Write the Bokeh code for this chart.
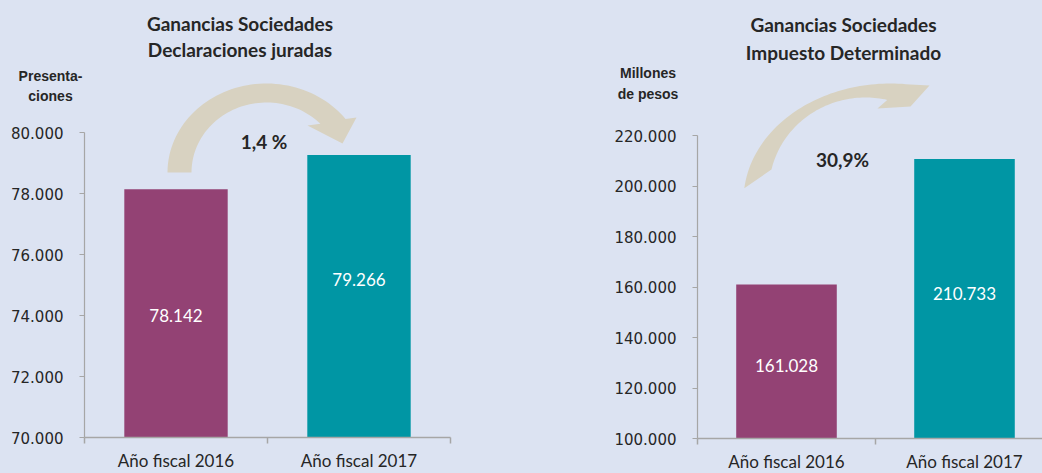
import math
from bokeh.plotting import figure
from bokeh.models import Range1d, FixedTicker
from bokeh.layouts import row
from bokeh.core.properties import value
from bokeh.embed import file_html
from bokeh.resources import INLINE

# ---------------- data ----------------
categories = ["Año fiscal 2016", "Año fiscal 2017"]
decl_values = [78142, 79266]          # Declaraciones juradas (presentaciones)
tax_values = [161028, 210733]         # Impuesto determinado (millones de pesos)
decl_ticks = [70000, 72000, 74000, 76000, 78000, 80000]
tax_ticks = [100000, 120000, 140000, 160000, 180000, 200000, 220000]
decl_change = "1,4 %"
tax_change = "30,9%"
decl_title = ["Ganancias Sociedades", "Declaraciones juradas"]
tax_title = ["Ganancias Sociedades", "Impuesto Determinado"]
decl_unit = ["Presenta-", "ciones"]
tax_unit = ["Millones", "de pesos"]

# ---------------- style ----------------
BG = "#dce3f2"
BAR_COLORS = ["#934274", "#0096a4"]
ARROW = "#d8d2c1"
AXIS = "#a6a6a6"
TXT = "#262626"
H = 473


def fmt(v):
    return f"{v:,}".replace(",", ".")


def ellipse_pts(cx, cy, rx, ry, t0, t1, n=60):
    pts = []
    for i in range(n + 1):
        t = math.radians(t0 + (t1 - t0) * i / n)
        pts.append((cx + rx * math.cos(t), cy - ry * math.sin(t)))
    return pts


def build(values, ticks, title, unit, change, g):
    fig_left, fig_w = g["fig_left"], g["fig_w"]
    fl, cw = g["frame_left"], g["cat_w"]
    yb, ytt = g["y_bottom"], g["y_top_tick"]
    ppu = (yb - ytt) / (ticks[-1] - ticks[0])

    def X(px):
        return (px - fl) / cw

    def Y(py):
        return ticks[0] + (yb - py) / ppu

    p = figure(width=fig_w, height=H, output_backend="svg", toolbar_location=None,
               x_range=Range1d(X(fig_left), X(fig_left + fig_w)),
               y_range=Range1d(Y(H), Y(0)),
               min_border_left=0, min_border_right=0, min_border_top=0, min_border_bottom=0,
               background_fill_color=BG, border_fill_color=BG, outline_line_color=None)
    p.grid.visible = False

    # arrow
    p.patch([X(a) for a, b in g["arrow"]], [Y(b) for a, b in g["arrow"]],
            fill_color=ARROW, line_color=None)

    # bars
    xc = [i + 0.5 for i in range(len(categories))]
    p.vbar(x=xc, top=values, bottom=ticks[0], width=0.565, fill_color=BAR_COLORS, line_color=None)

    # bar labels
    p.text(x=xc, y=[Y(v) for v in g["label_py"]], text=[fmt(v) for v in values],
           text_font=value("Lato"), text_font_size="17px", text_color="white",
           text_align="center", text_baseline="middle")

    # title
    p.text(x=[X(g["title_px"])] * 2, y=[Y(v) for v in g["title_py"]], text=title,
           text_font=value("Lato"), text_font_size="19px", text_font_style="bold",
           text_color=TXT, text_align="center", text_baseline="middle")

    # change
    p.text(x=[X(g["chg"][0])], y=[Y(g["chg"][1])], text=[change],
           text_font=value("Lato"), text_font_size="19px", text_font_style="bold",
           text_color=TXT, text_align="center", text_baseline="middle")

    # unit labels
    p.text(x=[X(g["unit_px"])] * 2, y=[Y(v) for v in g["unit_py"]], text=unit,
           text_font=value("Liberation Sans"), text_font_size="14px", text_font_style="bold",
           text_color=TXT, text_align="center", text_baseline="middle")

    # x axis
    xa = p.xaxis[0]
    xa.fixed_location = ticks[0]
    xa.ticker = FixedTicker(ticks=xc, minor_ticks=list(range(len(categories) + 1)))
    xa.major_label_overrides = {x: c for x, c in zip(xc, categories)}
    xa.bounds = (0, len(categories))
    xa.major_tick_out = 0
    xa.major_tick_in = 0
    xa.minor_tick_out = 6
    xa.minor_tick_in = 0
    xa.axis_line_color = AXIS
    xa.axis_line_width = 1.5
    xa.minor_tick_line_color = AXIS
    xa.minor_tick_line_width = 1.5
    xa.major_label_text_font = "Lato"
    xa.major_label_text_font_size = "17px"
    xa.major_label_text_color = TXT
    xa.major_label_standoff = 6

    # y axis
    ya = p.yaxis[0]
    ya.fixed_location = 0
    ya.ticker = FixedTicker(ticks=ticks)
    ya.major_label_overrides = {t: fmt(t) for t in ticks}
    ya.bounds = (ticks[0], ticks[-1])
    ya.major_tick_out = 5
    ya.major_tick_in = 0
    ya.minor_tick_out = 0
    ya.minor_tick_in = 0
    ya.axis_line_color = AXIS
    ya.axis_line_width = 1.2
    ya.major_tick_line_color = AXIS
    ya.major_tick_line_width = 1.2
    ya.major_label_text_font = "DejaVu Sans"
    ya.major_label_text_font_size = "15px"
    ya.major_label_text_color = TXT
    ya.major_label_standoff = 16
    return p


left_arrow = (ellipse_pts(266, 172, 99, 89, 180, 37)
              + [(356, 117), (342, 143), (307, 125)]
              + ellipse_pts(266, 172, 75, 70, 44, 180))
right_arrow = (ellipse_pts(890, 200, 147, 117, 174, 84)
               + [(929, 85), (910, 106), (877, 108)]
               + ellipse_pts(865, 190, 96.5, 93, 77, 167))

g_left = dict(fig_left=0, fig_w=560, frame_left=84, cat_w=183,
              y_bottom=437, y_top_tick=132, arrow=left_arrow,
              label_py=[315, 279], title_px=239.5, title_py=[23, 49],
              chg=(263.5, 141), unit_px=50, unit_py=[75, 95])
g_right = dict(fig_left=560, fig_w=482, frame_left=697, cat_w=178,
               y_bottom=438, y_top_tick=135, arrow=right_arrow,
               label_py=[365, 293], title_px=843, title_py=[24, 52],
               chg=(842, 159), unit_px=647.5, unit_py=[72, 93])

p1 = build(decl_values, decl_ticks, decl_title, decl_unit, decl_change, g_left)
p2 = build(tax_values, tax_ticks, tax_title, tax_unit, tax_change, g_right)

layout = row(p1, p2)
html = file_html(layout, INLINE)
html = html.replace("<head>", "<head><style>html,body{background-color:" + BG + ";}</style>", 1)
open("out.html", "w").write(html)
